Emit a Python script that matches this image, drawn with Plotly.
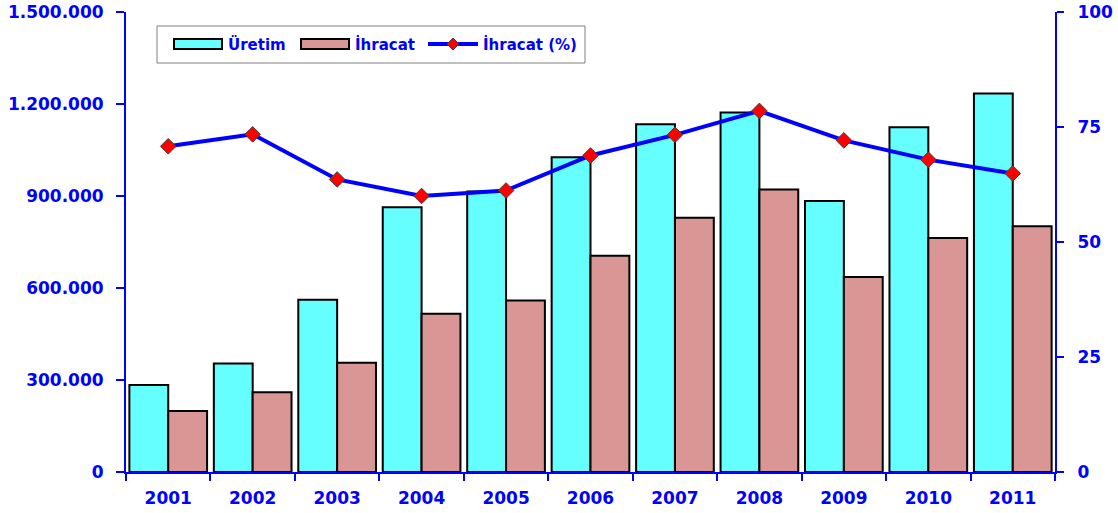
import plotly.graph_objects as go

years = ["2001", "2002", "2003", "2004", "2005", "2006", "2007", "2008", "2009", "2010", "2011"]
uretim = [284000, 354000, 562000, 863000, 915000, 1026000, 1134000, 1172000, 884000, 1124000, 1234000]
ihracat = [199000, 260000, 356000, 516000, 559000, 705000, 829000, 921000, 636000, 763000, 801000]
ihracat_pct = [70.8, 73.4, 63.6, 60.0, 61.2, 68.8, 73.3, 78.5, 72.1, 67.9, 64.9]

left_ticks = [0, 300000, 600000, 900000, 1200000, 1500000]
left_labels = ["0", "300.000", "600.000", "900.000", "1.200.000", "1.500.000"]
right_ticks = [0, 25, 50, 75, 100]

BLUE = "#0000FF"
CYAN = "#66FFFF"
PINK = "#D99694"
FONT = "DejaVu Sans"

W, H = 1118, 513
ML, MR, MT, MB = 126, 63, 12, 41
PW, PH = W - ML - MR, H - MT - MB


def px(x):
    return (x - ML) / PW


def py(y):
    return (H - MB - y) / PH


fig = go.Figure()
fig.add_trace(go.Bar(
    x=years, y=uretim, name="Üretim", showlegend=False,
    marker=dict(color=CYAN, line=dict(color="#000000", width=2)),
))
fig.add_trace(go.Bar(
    x=years, y=ihracat, name="İhracat", showlegend=False,
    marker=dict(color=PINK, line=dict(color="#000000", width=2)),
))
fig.add_trace(go.Scatter(
    x=years, y=ihracat_pct, name="İhracat (%)", yaxis="y2", showlegend=False,
    mode="lines+markers",
    line=dict(color=BLUE, width=4),
    marker=dict(symbol="diamond", size=12, color="#FF0000",
                line=dict(color="#404040", width=1)),
))

tickfont = dict(family=FONT, size=17, color=BLUE, weight="bold")
legfont = dict(family=FONT, size=15, color=BLUE, weight="bold")

# custom legend (box, swatches, labels)
shapes = [
    dict(type="rect", xref="paper", yref="paper", x0=px(157), x1=px(585), y0=py(63), y1=py(26),
         line=dict(color="#808080", width=1), fillcolor="white", layer="above"),
    dict(type="rect", xref="paper", yref="paper", x0=px(174), x1=px(222), y0=py(49), y1=py(39),
         line=dict(color="#000000", width=2), fillcolor=CYAN, layer="above"),
    dict(type="rect", xref="paper", yref="paper", x0=px(301), x1=px(349), y0=py(49), y1=py(39),
         line=dict(color="#000000", width=2), fillcolor=PINK, layer="above"),
    dict(type="line", xref="paper", yref="paper", x0=px(428), x1=px(478), y0=py(44), y1=py(44),
         line=dict(color=BLUE, width=4), layer="above"),
]
cx, cy, d = 453, 44, 6
path = "M {} {} L {} {} L {} {} L {} {} Z".format(
    px(cx - d), py(cy), px(cx), py(cy - d), px(cx + d), py(cy), px(cx), py(cy + d))
shapes.append(dict(type="path", xref="paper", yref="paper", path=path,
                   fillcolor="#FF0000", line=dict(color="#404040", width=1), layer="above"))

annotations = [
    dict(text=t, x=px(x0), y=py(44), xref="paper", yref="paper", xanchor="left", yanchor="middle",
         showarrow=False, font=legfont)
    for t, x0 in [("Üretim", 226), ("İhracat", 353), ("İhracat (%)", 481)]
]

fig.update_layout(
    width=W, height=H,
    margin=dict(l=ML, r=MR, t=MT, b=MB),
    paper_bgcolor="white", plot_bgcolor="white",
    barmode="group", bargap=0.08, bargroupgap=0,
    showlegend=False,
    shapes=shapes, annotations=annotations,
    xaxis=dict(
        range=[-0.5, len(years) - 0.5],
        showline=True, linecolor=BLUE, linewidth=2,
        ticks="outside", tickson="boundaries", ticklen=7, tickwidth=2, tickcolor=BLUE,
        tickfont=tickfont, showgrid=False, zeroline=False, automargin=False,
        ticklabelstandoff=10,
    ),
    yaxis=dict(
        range=[0, 1500000], tickvals=left_ticks, ticktext=left_labels,
        showline=True, linecolor=BLUE, linewidth=2,
        ticks="outside", ticklen=8, tickwidth=2, tickcolor=BLUE,
        tickfont=tickfont, showgrid=False, zeroline=False,
        ticklabelstandoff=9, automargin=False,
    ),
    yaxis2=dict(
        range=[0, 100], tickvals=right_ticks, overlaying="y", side="right",
        showline=True, linecolor=BLUE, linewidth=2,
        ticks="outside", ticklen=7, tickwidth=2, tickcolor=BLUE,
        tickfont=tickfont, showgrid=False, zeroline=False,
        ticklabelstandoff=10, automargin=False,
    ),
)

fig.write_html("out.html", config={"displayModeBar": False},
               post_script="document.body.style.margin='0';document.body.style.overflow='hidden';")
